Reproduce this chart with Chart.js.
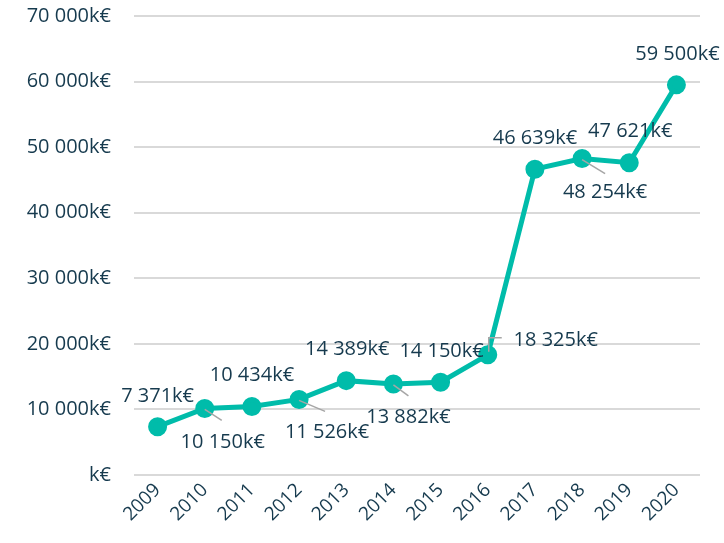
<!DOCTYPE html>
<html>
<head>
<meta charset="utf-8">
<script src="https://cdn.jsdelivr.net/npm/chart.js@4.4.0/dist/chart.umd.min.js"></script>
<style>
  html, body { margin: 0; padding: 0; background: #fff; }
  #wrap { width: 724px; height: 543px; }
</style>
</head>
<body>
<div id="wrap"><canvas id="chart"></canvas></div>
<script>
var years = ["2009", "2010", "2011", "2012", "2013", "2014", "2015", "2016", "2017", "2018", "2019", "2020"];
var amounts = [7371, 10150, 10434, 11526, 14389, 13882, 14150, 18325, 46639, 48254, 47621, 59500];
var yTicks = [0, 10000, 20000, 30000, 40000, 50000, 60000, 70000];

// where each value label sits relative to its point, and its leader line if any
var labelPlace = [
    { dx: 0, dy: -30 },
    { dx: 18, dy: 34, leader: [[0, 1], [17, 12]] },
    { dx: 0, dy: -31 },
    { dx: 28, dy: 33, leader: [[0, 1], [26, 12]] },
    { dx: 1, dy: -31 },
    { dx: 15, dy: 33, leader: [[0, 1], [15, 12]] },
    { dx: 1, dy: -31 },
    { dx: 68, dy: -15, leader: [[1, -3], [1, -17], [14, -17]] },
    { dx: 0, dy: -31 },
    { dx: 23, dy: 34, leader: [[0, 1], [23, 15]] },
    { dx: 1, dy: -31 },
    { dx: 1, dy: -31 }
];

var textColor = '#163a4e';
var fontFamily = '"Open Sans", "Noto Sans", sans-serif';

function fmt(v) {
    if (v === 0) return 'k€';
    return String(v).replace(/\B(?=(\d{3})+(?!\d))/g, ' ') + 'k€';
}

var valueLabels = {
    id: 'valueLabels',
    afterDatasetsDraw: function(chart) {
        var ctx = chart.ctx;
        var meta = chart.getDatasetMeta(0);
        ctx.save();
        meta.data.forEach(function(pt, i) {
            var p = labelPlace[i];
            if (p.leader) {
                ctx.strokeStyle = '#a6a6a6';
                ctx.lineWidth = 1.5;
                ctx.beginPath();
                p.leader.forEach(function(c, j) {
                    if (j === 0) ctx.moveTo(pt.x + c[0], pt.y + c[1]);
                    else ctx.lineTo(pt.x + c[0], pt.y + c[1]);
                });
                ctx.stroke();
            }
            ctx.fillStyle = textColor;
            ctx.font = '20px ' + fontFamily;
            ctx.textAlign = 'center';
            ctx.textBaseline = 'middle';
            ctx.fillText(fmt(amounts[i]), pt.x + p.dx, pt.y + p.dy);
        });
        ctx.restore();
    }
};

var cChart = document.getElementById('chart');
var chartAmounts = new Chart(cChart, {
    type: 'line',
    data: {
        labels: years,
        datasets: [{
            data: amounts,
            borderColor: '#00bcaa',
            backgroundColor: '#00bcaa',
            borderWidth: 5,
            pointRadius: 7,
            pointHoverRadius: 7,
            tension: 0
        }]
    },
    options: {
        responsive: true,
        maintainAspectRatio: false,
        animation: false,
        layout: { padding: { top: 16, right: 24, left: 0, bottom: 0 } },
        plugins: {
            legend: { display: false },
            tooltip: { enabled: false }
        },
        scales: {
            x: {
                offset: true,
                grid: { display: false, drawTicks: false },
                border: { display: false },
                ticks: {
                    color: textColor,
                    font: { family: fontFamily, size: 19 },
                    minRotation: 45,
                    maxRotation: 45,
                    autoSkip: false,
                    padding: 4
                },
                afterFit: function(axis) { axis.height = 68; axis.paddingLeft = 0; axis.paddingRight = 0; }
            },
            y: {
                min: 0,
                max: 70000,
                afterBuildTicks: function(axis) {
                    axis.ticks = yTicks.map(function(v) { return { value: v }; });
                },
                grid: { color: '#d9d9d9', lineWidth: 2, drawTicks: false },
                border: { display: false },
                ticks: {
                    color: textColor,
                    font: { family: fontFamily, size: 20 },
                    padding: 23,
                    callback: function(v) { return fmt(v); }
                },
                afterFit: function(axis) { axis.width = 134; axis.paddingTop = 0; axis.paddingBottom = 0; }
            }
        }
    },
    plugins: [valueLabels]
});
</script>
</body>
</html>
